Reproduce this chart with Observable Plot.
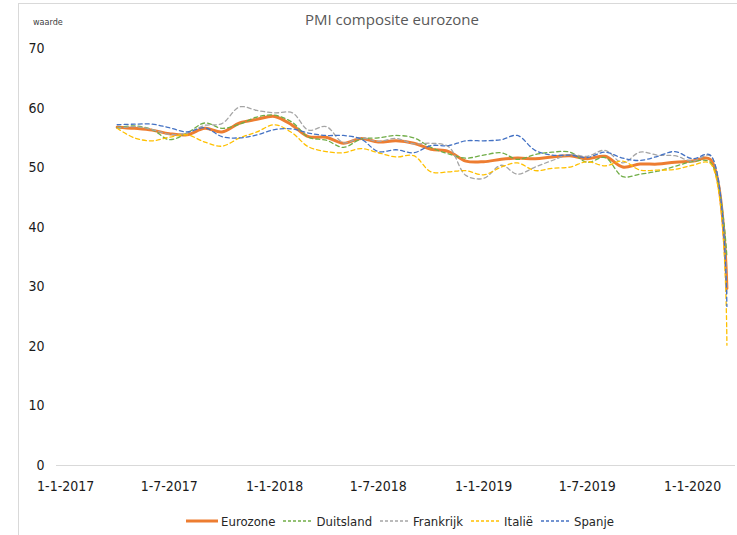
<!DOCTYPE html>
<html>
<head>
<meta charset="utf-8">
<script src="https://cdn.jsdelivr.net/npm/d3@7"></script>
<script src="https://cdn.jsdelivr.net/npm/@observablehq/plot@0.6"></script>
<style>
  html, body { margin: 0; padding: 0; background: #fff; }
  body { width: 737px; height: 535px; overflow: hidden; position: relative;
         font-family: "DejaVu Sans Condensed", "Liberation Sans Narrow", "Roboto", sans-serif; }
  #frame { position: absolute; left: 18px; top: 3px; width: 800px; height: 600px; border: 1px solid #d9d9d9; }
  #title { position: absolute; top: 9px; left: 242px; width: 300px; text-align: center;
           font-family: "Open Sans", "Liberation Sans", sans-serif; font-size: 15px; color: #595959; }
  #ylab { position: absolute; top: 17px; left: 33px; font-size: 9px; color: #404040; }
  #chart { position: absolute; top: 0; left: 0; }
  #legend { position: absolute; top: 512px; left: 0; width: 800px; display: flex; justify-content: center;
            align-items: center; font-size: 13px; color: #262626; height: 18px; }
  .item { display: flex; align-items: center; margin: 0 4px; }
  .item svg { margin-right: 3px; }
</style>
</head>
<body>
<div id="frame"></div>
<div id="title">PMI composite eurozone</div>
<div id="ylab">waarde</div>
<div id="chart"></div>
<div id="legend"></div>
<script>
const months = ["2017-04","2017-05","2017-06","2017-07","2017-08","2017-09","2017-10","2017-11","2017-12",
  "2018-01","2018-02","2018-03","2018-04","2018-05","2018-06","2018-07","2018-08","2018-09","2018-10","2018-11","2018-12",
  "2019-01","2019-02","2019-03","2019-04","2019-05","2019-06","2019-07","2019-08","2019-09","2019-10","2019-11","2019-12",
  "2020-01","2020-02","2020-03"];

const eurozone  = [56.8,56.6,56.3,55.7,55.5,56.6,56.0,57.5,58.1, 58.6,57.1,55.2,55.1,54.1,54.9,54.3,54.5,54.1,53.1,52.7,51.1, 51.0,51.4,51.6,51.5,51.8,52.0,51.5,51.9,50.1,50.6,50.6,50.9, 51.1,51.4,29.7];
const duitsland = [56.7,57.0,56.4,54.7,55.8,57.5,56.6,57.3,58.5, 58.8,57.6,55.1,54.6,53.4,54.8,55.0,55.4,55.0,53.4,52.3,51.6, 52.1,52.5,51.4,52.2,52.6,52.6,50.9,51.7,48.5,48.9,49.4,50.2, 51.0,50.9,35.0];
const frankrijk = [56.6,56.9,56.4,55.6,55.8,57.1,57.4,60.2,59.6, 59.2,59.2,56.3,56.9,54.2,55.0,54.4,54.9,54.0,54.1,53.5,48.7, 48.2,50.4,48.9,50.1,51.2,52.2,51.9,52.9,50.8,52.6,52.1,52.0, 51.1,52.0,28.9];
const italie    = [56.6,55.0,54.5,55.1,55.5,54.3,53.6,55.0,56.0, 57.2,55.8,53.5,52.7,52.5,53.2,52.5,51.8,52.0,49.3,49.3,49.5, 48.8,50.1,50.8,49.5,49.9,50.1,51.0,50.3,51.1,49.6,49.6,49.7, 50.4,50.7,20.2];
const spanje    = [57.2,57.3,57.3,56.7,56.0,56.7,55.2,55.0,55.5, 56.4,56.5,55.8,55.4,55.4,54.8,52.7,53.0,52.5,53.7,53.7,54.5, 54.5,54.7,55.4,52.9,52.1,52.1,51.7,52.6,51.6,51.2,51.9,52.7, 51.5,52.1,26.7];

const seriesNames  = ["Eurozone","Duitsland","Frankrijk","Italië","Spanje"];
const seriesValues = [eurozone, duitsland, frankrijk, italie, spanje];
const seriesColors = ["#ED7D31","#70AD47","#A5A5A5","#FFC000","#4472C4"];

const xTicks = ["2017-01-01","2017-07-01","2018-01-01","2018-07-01","2019-01-01","2019-07-01","2020-01-01"];
const yTicks = [0,10,20,30,40,50,60,70];

const data = [];
seriesNames.forEach((name, s) => {
  months.forEach((m, i) => data.push({name, date: new Date(m + "-01T00:00:00Z"), value: seriesValues[s][i]}));
});

const fmt = d => `${d.getUTCDate()}-${d.getUTCMonth() + 1}-${d.getUTCFullYear()}`;

const lineMarks = seriesNames.map((name, s) => Plot.line(data.filter(d => d.name === name), {
  x: "date", y: "value",
  stroke: seriesColors[s],
  strokeWidth: s === 0 ? 3 : 1.3,
  strokeDasharray: s === 0 ? null : "4,3",
  curve: "catmull-rom"
}));

const chart = Plot.plot({
  width: 737,
  height: 505,
  marginLeft: 56,
  marginRight: 2,
  marginTop: 48,
  marginBottom: 40,
  style: {fontSize: "14px", color: "#1a1a1a", fontFamily: "'DejaVu Sans Condensed', 'Liberation Sans Narrow', Roboto, sans-serif"},
  x: {type: "utc", domain: [new Date("2016-12-16T00:00:00Z"), new Date("2020-03-16T00:00:00Z")],
      ticks: xTicks.map(t => new Date(t + "T00:00:00Z")), tickFormat: fmt, tickSize: 0, tickPadding: 16, label: null},
  y: {domain: [0, 70], ticks: yTicks, tickSize: 0, tickPadding: 12, label: null},
  marks: [
    Plot.ruleY([0], {stroke: "#d9d9d9"}),
    ...lineMarks
  ]
});
document.getElementById("chart").appendChild(chart);

const legend = document.getElementById("legend");
seriesNames.forEach((name, s) => {
  const item = document.createElement("div");
  item.className = "item";
  const w = s === 0 ? 32 : 30;
  item.innerHTML = `<svg width="${w}" height="6"><line x1="0" x2="${w}" y1="3" y2="3" stroke="${seriesColors[s]}" stroke-width="${s === 0 ? 3 : 1.3}" ${s === 0 ? "" : 'stroke-dasharray="3,2"'}/></svg><span>${name}</span>`;
  legend.appendChild(item);
});
</script>
</body>
</html>
